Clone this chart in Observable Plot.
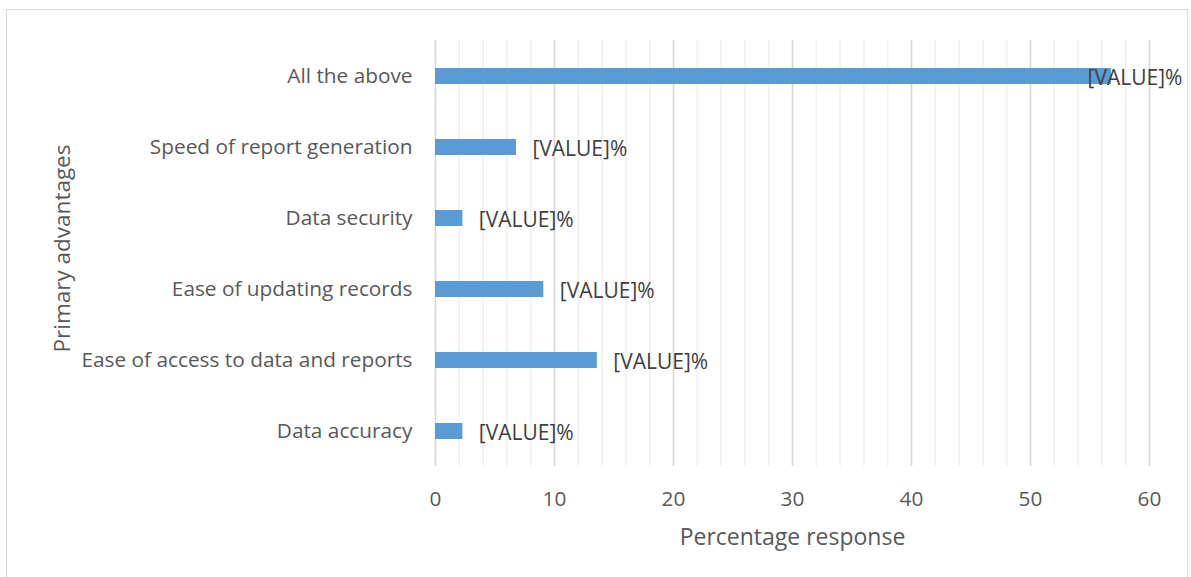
<!DOCTYPE html>
<html>
<head>
<meta charset="utf-8">
<script src="https://cdn.jsdelivr.net/npm/d3@7"></script>
<script src="https://cdn.jsdelivr.net/npm/@observablehq/plot@0.6"></script>
<style>
  html, body { margin: 0; padding: 0; background: #fff; }
  #wrap { position: relative; width: 1191px; height: 577px; overflow: hidden; }
  #border { position: absolute; left: 6px; top: 9px; width: 1182px; height: 600px; border: 1px solid #d9d9d9; box-sizing: border-box; pointer-events: none; }
  svg { display: block; }
</style>
</head>
<body>
<div id="wrap"><div id="border"></div></div>
<script>
const categories = [
  "All the above",
  "Speed of report generation",
  "Data security",
  "Ease of updating records",
  "Ease of access to data and reports",
  "Data accuracy"
];
const values = [56.8, 6.8, 2.3, 9.1, 13.6, 2.3];
const valueLabels = ["[VALUE]%", "[VALUE]%", "[VALUE]%", "[VALUE]%", "[VALUE]%", "[VALUE]%"];
const xTicks = [0, 10, 20, 30, 40, 50, 60];
const minorTicks = d3.range(0, 61, 2);

const data = categories.map((c, i) => ({category: c, value: values[i], label: valueLabels[i]}));

const font = "'Open Sans', 'Noto Sans', sans-serif";

const chart = Plot.plot({
  width: 1191,
  height: 577,
  marginLeft: 435,
  marginRight: 42,
  marginTop: 40,
  marginBottom: 111,
  style: {fontFamily: font, background: "transparent", color: "#595959"},
  x: {domain: [0, 60]},
  y: {domain: categories, paddingInner: 0.775, paddingOuter: 0.3875},
  marks: [
    Plot.gridX(minorTicks, {stroke: "#f0f0f0", strokeOpacity: 1, strokeWidth: 1.5}),
    Plot.gridX(xTicks, {stroke: "#d9d9d9", strokeOpacity: 1, strokeWidth: 1.5}),
    Plot.barX(data, {x: "value", y: "category", fill: "#5b9bd5"}),
    Plot.text(data, {
      x: d => Math.min(d.value, 54.8),
      y: "category",
      text: "label",
      textAnchor: "start",
      dy: 2,
      fill: "#404040",
      fontSize: 21,
      render: (index, scales, values, dims, ctx, next) => {
        const g = next(index, scales, values, dims, ctx);
        d3.select(g).selectAll("text").each(function(_, j) {
          const d = data[index[j]];
          d3.select(this).attr("dx", d.value > 54.8 ? 0 : 16);
        });
        return g;
      }
    }),
    Plot.axisY({tickSize: 0, tickPadding: 23, fontSize: 20.8, label: null, fill: "#595959"}),
    Plot.axisX({ticks: xTicks, tickSize: 0, tickPadding: 25, fontSize: 20.8, label: null, fill: "#595959"}),
    Plot.text(["Percentage response"], {frameAnchor: "bottom", dy: 78, fontSize: 23, fill: "#595959"}),
    Plot.text(["Primary advantages"], {frameAnchor: "left", textAnchor: "middle", dx: -373, dy: -5, rotate: -90, fontSize: 22.5, fill: "#595959"})
  ]
});

document.getElementById("wrap").prepend(chart);
</script>
</body>
</html>
